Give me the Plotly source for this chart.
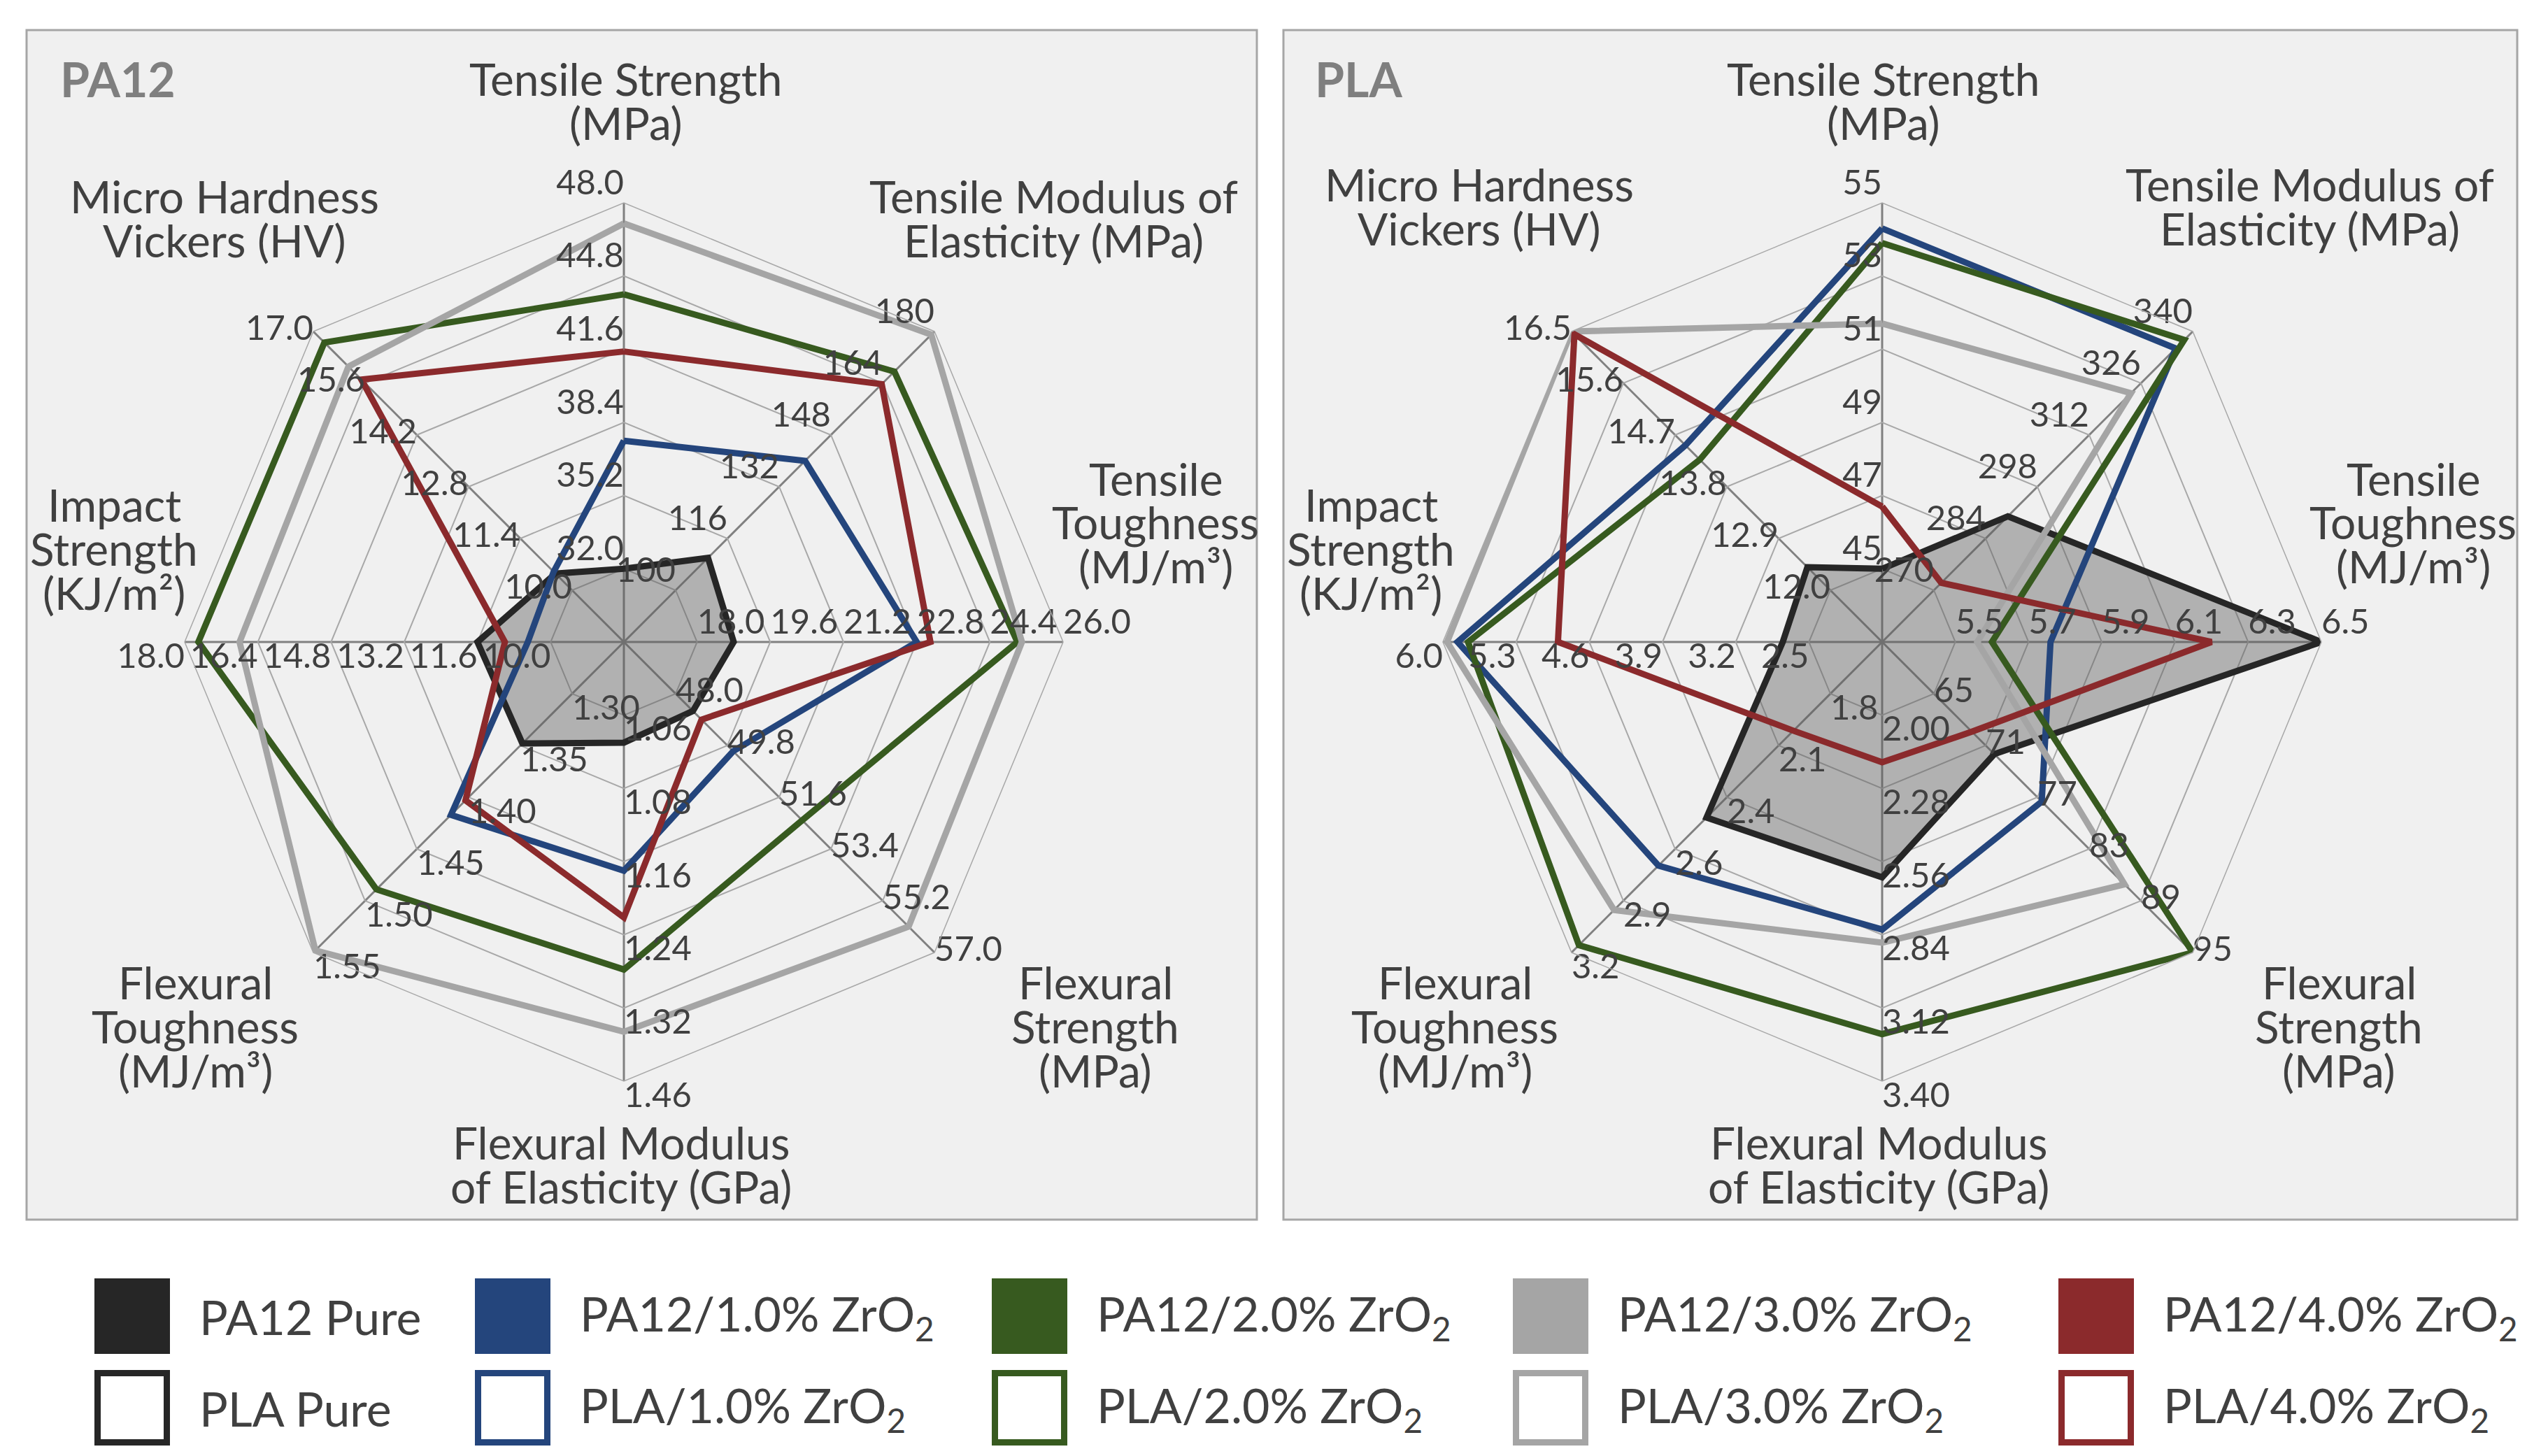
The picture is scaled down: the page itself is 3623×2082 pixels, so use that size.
import plotly.graph_objects as go

W, H = 3623, 2082
FONT = "Lato"
TXT = "#404040"

# ---------------- data ----------------
axes = ["Tensile Strength", "Tensile Modulus", "Tensile Toughness", "Flexural Strength",
        "Flexural Modulus", "Flexural Toughness", "Impact Strength", "Micro Hardness"]

series_colors = ["#262626", "#24457c", "#375a1f", "#a5a5a5", "#8b2a2c"]

# PA12 axis scales (centre value, outer ring value) and ring labels
pa12_min = [28.8, 84, 16.4, 46.2, 0.92, 1.25, 8.4, 8.6]
pa12_max = [48.0, 180, 26.0, 57.0, 1.40, 1.55, 18.0, 17.0]
pa12_ticks = [
    ["32.0", "35.2", "38.4", "41.6", "44.8", "48.0"],
    ["100", "116", "132", "148", "164", "180"],
    ["18.0", "19.6", "21.2", "22.8", "24.4", "26.0"],
    ["48.0", "49.8", "51.6", "53.4", "55.2", "57.0"],
    ["1.06", "1.08", "1.16", "1.24", "1.32", "1.46"],
    ["1.30", "1.35", "1.40", "1.45", "1.50", "1.55"],
    ["10.0", "11.6", "13.2", "14.8", "16.4", "18.0"],
    ["10.0", "11.4", "12.8", "14.2", "15.6", "17.0"],
]
pa12_pure = [32.0, 110, 18.8, 48.6, 1.03, 1.348, 11.6, 10.45]
pa12_z1 = [37.6, 140, 22.8, 50.0, 1.17, 1.417, 10.5, 10.5]
pa12_z2 = [44.0, 167.6, 25.0, 52.4, 1.278, 1.489, 17.7, 16.7]
pa12_z3 = [47.1, 179, 25.1, 56.1, 1.346, 1.548, 16.8, 16.05]
pa12_z4 = [41.5, 163.7, 23.1, 48.9, 1.221, 1.403, 11.0, 15.7]

# PLA axis scales and ring labels
pla_min = [43, 256, 5.3, 59, 1.72, 1.52, 1.8, 11.1]
pla_max = [55, 340, 6.5, 95, 3.40, 3.20, 6.0, 16.5]
pla_ticks = [
    ["45", "47", "49", "51", "53", "55"],
    ["270", "284", "298", "312", "326", "340"],
    ["5.5", "5.7", "5.9", "6.1", "6.3", "6.5"],
    ["65", "71", "77", "83", "89", "95"],
    ["2.00", "2.28", "2.56", "2.84", "3.12", "3.40"],
    ["1.8", "2.1", "2.4", "2.6", "2.9", "3.2"],
    ["2.5", "3.2", "3.9", "4.6", "5.3", "6.0"],
    ["12.0", "12.9", "13.8", "14.7", "15.6", "16.5"],
]
pla_pure = [45.0, 290, 6.5, 72.0, 2.62, 2.47, 2.75, 12.4]
pla_z1 = [54.3, 335.4, 5.76, 77.5, 2.82, 2.73, 5.86, 14.52]
pla_z2 = [53.9, 337.7, 5.6, 95.0, 3.22, 3.16, 5.76, 14.27]
pla_z3 = [51.7, 323.3, 5.56, 87.1, 2.87, 2.97, 5.96, 16.5]
pla_z4 = [46.7, 272, 6.2, 69.4, 2.18, 2.0, 4.9, 16.45]

legend_row1 = ["PA12 Pure", "PA12/1.0% ZrO<sub>2</sub>", "PA12/2.0% ZrO<sub>2</sub>",
               "PA12/3.0% ZrO<sub>2</sub>", "PA12/4.0% ZrO<sub>2</sub>"]
legend_row2 = ["PLA Pure", "PLA/1.0% ZrO<sub>2</sub>", "PLA/2.0% ZrO<sub>2</sub>",
               "PLA/3.0% ZrO<sub>2</sub>", "PLA/4.0% ZrO<sub>2</sub>"]

# ---------------- layout constants ----------------
tick_pos = ["top left", "top left", "top right", "middle right",
            "bottom right", "bottom right", "bottom left", "middle left"]

R = 628
centres = {"polar": (884, 910), "polar2": (2683, 910)}


def px2x(x):
    return x / W


def px2y(y):
    return 1 - y / H


def norm(vals, mn, mx):
    return [(v - a) / (b - a) for v, a, b in zip(vals, mn, mx)]


fig = go.Figure()

charts = [
    dict(sp="polar", series=[pa12_pure, pa12_z1, pa12_z2, pa12_z3, pa12_z4],
         mn=pa12_min, mx=pa12_max, ticks=pa12_ticks),
    dict(sp="polar2", series=[pla_pure, pla_z1, pla_z2, pla_z3, pla_z4],
         mn=pla_min, mx=pla_max, ticks=pla_ticks),
]

for ch in charts:
    for k, (vals, col) in enumerate(zip(ch["series"], series_colors)):
        r = norm(vals, ch["mn"], ch["mx"])
        fig.add_trace(go.Scatterpolar(
            r=r + [r[0]], theta=axes + [axes[0]], mode="lines",
            line=dict(color=col, width=9),
            fill="toself" if k == 0 else "none",
            fillcolor="rgba(90,90,90,0.42)",
            subplot=ch["sp"], showlegend=False, hoverinfo="skip"))
    for i, ax in enumerate(axes):
        fig.add_trace(go.Scatterpolar(
            r=[(j + 1) / 6 for j in range(6)], theta=[ax] * 6, mode="text",
            text=ch["ticks"][i], textposition=tick_pos[i],
            textfont=dict(family=FONT, size=49, color=TXT),
            subplot=ch["sp"], showlegend=False, hoverinfo="skip"))
    fig.add_trace(go.Scatterpolar(
        r=[0], theta=[axes[0]], mode="markers",
        marker=dict(size=66, color="#7f7f7f"),
        subplot=ch["sp"], showlegend=False, hoverinfo="skip"))


def polar_layout(cx, cy):
    return dict(
        domain=dict(x=[px2x(cx - R), px2x(cx + R)], y=[px2y(cy + R), px2y(cy - R)]),
        bgcolor="rgba(0,0,0,0)",
        gridshape="linear",
        radialaxis=dict(range=[0, 1], tickvals=[k / 6 for k in range(1, 6)],
                        showticklabels=False, ticks="", showline=False,
                        gridcolor="#a8a8a8", gridwidth=1.5),
        angularaxis=dict(type="category", categoryorder="array", categoryarray=axes,
                         direction="clockwise", rotation=90, showticklabels=False,
                         ticks="", gridcolor="#808080", gridwidth=2.5,
                         linecolor="#a8a8a8", linewidth=1.5),
    )


shapes = []
annotations = []

# panels
for x0, x1 in [(30, 1789), (1827, 3591)]:
    shapes.append(dict(type="rect", xref="paper", yref="paper", layer="below",
                       x0=px2x(x0), x1=px2x(x1), y0=px2y(1736), y1=px2y(35),
                       fillcolor="#f0f0f0", line=dict(color="#a6a6a6", width=3)))

# panel titles
for txt, x in [("PA12", 76), ("PLA", 1870)]:
    annotations.append(dict(text="<b>%s</b>" % txt, x=px2x(x), y=px2y(104),
                            xref="paper", yref="paper", xanchor="left", yanchor="middle",
                            showarrow=False, font=dict(family=FONT, size=68, color="#7f7f7f")))

# axis titles (lines, centre x, first-line y)
LS = 63
titles_pa12 = [
    (["Tensile Strength", "(MPa)"], 887, 104),
    (["Tensile Modulus of", "Elasticity (MPa)"], 1498, 273),
    (["Tensile", "Toughness", "(MJ/m³)"], 1644, 676),
    (["Flexural", "Strength", "(MPa)"], 1558, 1396),
    (["Flexural Modulus", "of Elasticity (GPa)"], 880, 1625),
    (["Flexural", "Toughness", "(MJ/m³)"], 271, 1396),
    (["Impact", "Strength", "(KJ/m²)"], 155, 713),
    (["Micro Hardness", "Vickers (HV)"], 313, 273),
]
titles_pla = [
    (["Tensile Strength", "(MPa)"], 2685, 104),
    (["Tensile Modulus of", "Elasticity (MPa)"], 3294, 255),
    (["Tensile", "Toughness", "(MJ/m³)"], 3442, 676),
    (["Flexural", "Strength", "(MPa)"], 3336, 1396),
    (["Flexural Modulus", "of Elasticity (GPa)"], 2678, 1625),
    (["Flexural", "Toughness", "(MJ/m³)"], 2072, 1396),
    (["Impact", "Strength", "(KJ/m²)"], 1952, 713),
    (["Micro Hardness", "Vickers (HV)"], 2107, 255),
]
for lines, cx, y0 in titles_pa12 + titles_pla:
    for j, ln in enumerate(lines):
        annotations.append(dict(text=ln, x=px2x(cx), y=px2y(y0 + j * LS),
                                xref="paper", yref="paper", xanchor="center",
                                yanchor="middle", showarrow=False,
                                font=dict(family=FONT, size=64, color=TXT)))

# legend
sq_x = [127, 671, 1410, 2155, 2935]
SQ = 108
rows = [(1820, legend_row1, True), (1951, legend_row2, False)]
for top, labels, filled in rows:
    for k, (x, lab) in enumerate(zip(sq_x, labels)):
        col = series_colors[k]
        if filled:
            shapes.append(dict(type="rect", xref="paper", yref="paper",
                               x0=px2x(x), x1=px2x(x + SQ), y0=px2y(top + SQ), y1=px2y(top),
                               fillcolor=col, line=dict(width=0)))
        else:
            ins = 4.5
            shapes.append(dict(type="rect", xref="paper", yref="paper",
                               x0=px2x(x + ins), x1=px2x(x + SQ - ins),
                               y0=px2y(top + SQ - ins), y1=px2y(top + ins),
                               fillcolor="white", line=dict(color=col, width=9)))
        annotations.append(dict(text=lab, x=px2x(x + SQ + 40), y=px2y(top + SQ / 2),
                                xref="paper", yref="paper", xanchor="left",
                                yanchor="middle", showarrow=False,
                                font=dict(family=FONT, size=68, color=TXT)))

fig.update_layout(
    width=W, height=H,
    margin=dict(l=0, r=0, t=0, b=0),
    paper_bgcolor="white",
    plot_bgcolor="white",
    polar=polar_layout(*centres["polar"]),
    polar2=polar_layout(*centres["polar2"]),
    shapes=shapes,
    annotations=annotations,
    showlegend=False,
)

fig.write_html("out.html")
